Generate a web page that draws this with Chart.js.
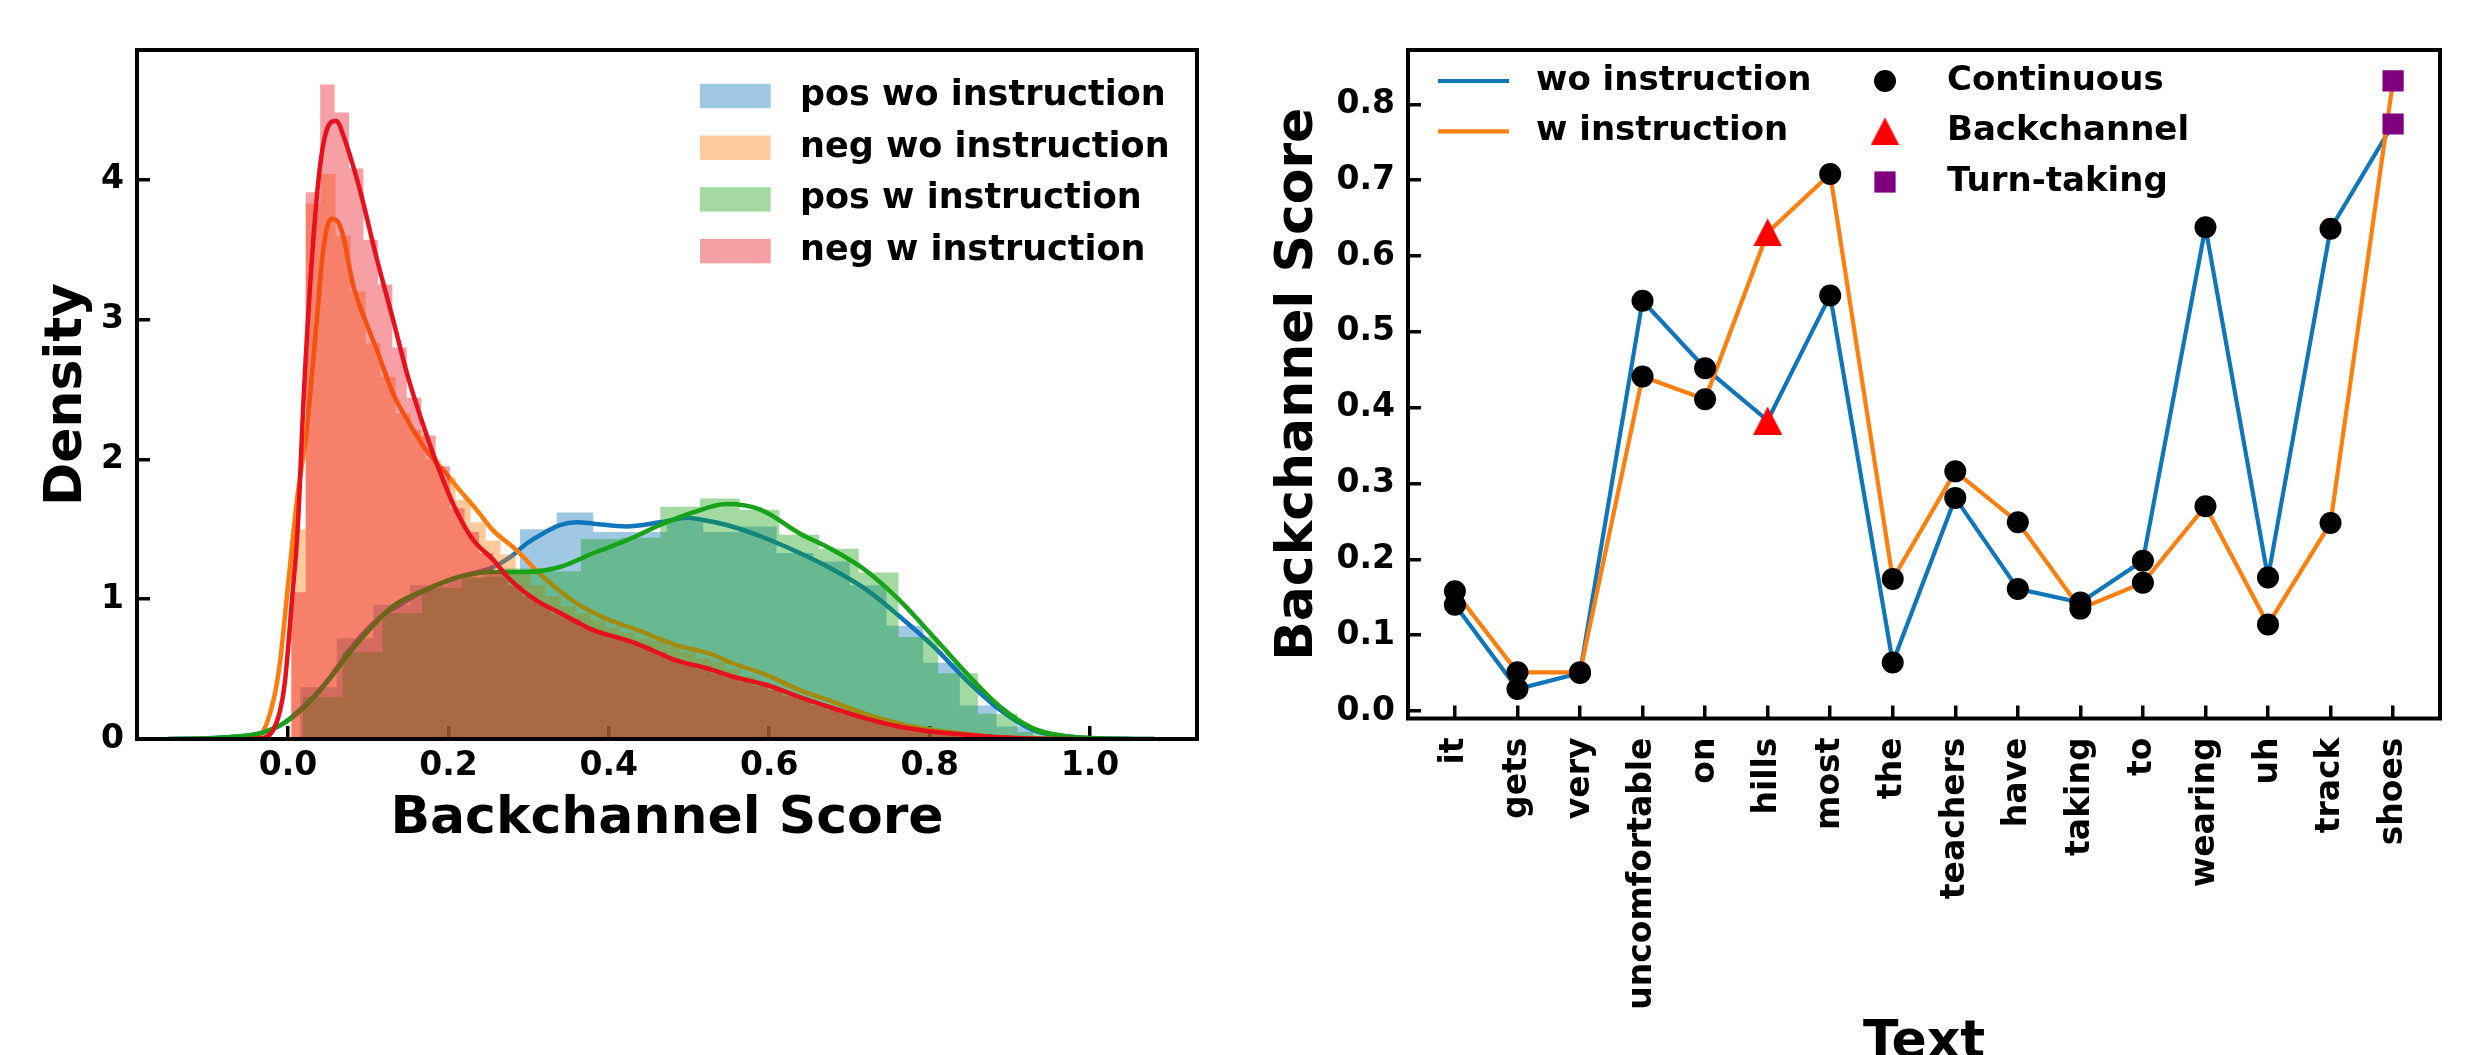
<!DOCTYPE html>
<html>
<head>
<meta charset="utf-8">
<style>
html, body { margin: 0; padding: 0; background: #fff; }
#wrap { position: relative; width: 2489px; height: 1055px; overflow: hidden; background: #fff; }
#leftBox { position: absolute; left: 0; top: 0; width: 1250px; height: 1055px; }
#rightBox { position: absolute; left: 1250px; top: 0; width: 1239px; height: 1055px; }
</style>
</head>
<body>
<div id="wrap">
<div id="leftBox"><canvas id="densityChart" width="1250" height="1055"></canvas></div>
<div id="rightBox"><canvas id="scoreChart" width="1239" height="1055"></canvas></div>
</div>

<script src="https://cdn.jsdelivr.net/npm/chart.js"></script>
<script>
// ---- left panel: histograms (bin start, bin width, heights) ----
var histNames = ['pos wo instruction', 'neg wo instruction', 'pos w instruction', 'neg w instruction'];

var posWoBinStart = 0.0151, posWoBinWidth = 0.0457;
var posWoHist = [0.37, 0.72, 0.96, 1.10, 1.15, 1.20, 1.50, 1.62, 1.48, 1.48, 1.56, 1.48, 1.52, 1.33, 1.27, 1.10, 0.81, 0.545, 0.24, 0.09, 0.02];

var negWoBinStart = 0.0033, negWoBinWidth = 0.0187;
var negWoHist = [1.5, 3.83, 4.04, 3.6, 3.2, 2.83, 2.59, 2.33, 2.21, 2.0, 1.87, 1.71, 1.55, 1.42, 1.32, 1.18,
                 1.10, 1.02, 0.95, 0.90, 0.85, 0.80, 0.76, 0.72, 0.70, 0.66, 0.62, 0.58, 0.55, 0.50, 0.45, 0.41,
                 0.37, 0.32, 0.28, 0.25, 0.21, 0.18, 0.14, 0.12, 0.09, 0.07, 0.05, 0.04, 0.03, 0.02, 0.01, 0.005];

var posWBinStart = 0.0187, posWBinWidth = 0.0495;
var posWHist = [0.30, 0.62, 0.90, 1.08, 1.16, 1.22, 1.20, 1.43, 1.44, 1.66, 1.72, 1.64, 1.46, 1.36, 1.19, 0.73, 0.47, 0.18, 0.05];

var negWBinStart = 0.0041, negWBinWidth = 0.018;
var negWHist = [1.05, 3.91, 4.68, 4.48, 4.08, 3.57, 3.25, 2.80, 2.44, 2.17, 1.95, 1.65, 1.48, 1.33, 1.20, 1.10,
                1.02, 0.96, 0.90, 0.86, 0.80, 0.76, 0.72, 0.70, 0.66, 0.62, 0.57, 0.53, 0.50, 0.47, 0.44, 0.41,
                0.38, 0.35, 0.31, 0.28, 0.24, 0.21, 0.18, 0.15, 0.12, 0.10, 0.08, 0.06, 0.05, 0.04, 0.03, 0.02, 0.01];

// ---- left panel: kde curves ----
var posWoKdeX = [-0.15, -0.10, -0.068, -0.035, -0.006, 0.015, 0.036, 0.056, 0.077, 0.098, 0.119, 0.14, 0.16, 0.18,
                 0.214, 0.256, 0.277, 0.298, 0.318, 0.339, 0.36, 0.381, 0.422, 0.464, 0.497, 0.514, 0.547, 0.589,
                 0.638, 0.68, 0.722, 0.763, 0.805, 0.846, 0.888, 0.929, 0.97, 1.01, 1.08];
var posWoKdeY = [0, 0.005, 0.016, 0.04, 0.11, 0.21, 0.33, 0.47, 0.64, 0.78, 0.89, 0.96, 1.03, 1.09,
                 1.16, 1.23, 1.30, 1.40, 1.47, 1.53, 1.55, 1.54, 1.52, 1.55, 1.58, 1.57, 1.53, 1.45,
                 1.33, 1.21, 1.064, 0.874, 0.66, 0.42, 0.207, 0.064, 0.02, 0.005, 0];

var negWoKdeX = [-0.06, -0.035, -0.018, -0.01, 0.0, 0.011, 0.023, 0.036, 0.044, 0.054, 0.062, 0.069, 0.081, 0.098,
                 0.111, 0.131, 0.152, 0.173, 0.194, 0.214, 0.235, 0.256, 0.283, 0.318, 0.36, 0.401, 0.435, 0.485,
                 0.526, 0.555, 0.597, 0.638, 0.68, 0.72, 0.763, 0.805, 0.846, 0.888, 0.95];
var negWoKdeY = [0, 0.03, 0.28, 0.55, 1.1, 1.7, 2.2, 3.0, 3.5, 3.72, 3.7, 3.59, 3.25, 2.97,
                 2.78, 2.47, 2.25, 2.06, 1.92, 1.78, 1.64, 1.49, 1.36, 1.16, 0.97, 0.85, 0.78, 0.67,
                 0.61, 0.54, 0.457, 0.35, 0.266, 0.18, 0.11, 0.064, 0.036, 0.012, 0];

var posWKdeX = [-0.15, -0.10, -0.068, -0.035, -0.006, 0.015, 0.036, 0.056, 0.077, 0.098, 0.131, 0.173, 0.214,
                0.256, 0.298, 0.339, 0.381, 0.422, 0.464, 0.505, 0.547, 0.589, 0.638, 0.68, 0.72, 0.763,
                0.805, 0.846, 0.888, 0.929, 0.97, 1.01, 1.08];
var posWKdeY = [0, 0.005, 0.016, 0.04, 0.11, 0.2, 0.32, 0.46, 0.62, 0.76, 0.95, 1.07, 1.16,
                1.195, 1.195, 1.23, 1.33, 1.42, 1.53, 1.62, 1.68, 1.64, 1.47, 1.35, 1.207, 0.99,
                0.73, 0.47, 0.23, 0.076, 0.02, 0.005, 0];

var negWKdeX = [-0.05, -0.03, -0.02, -0.01, -0.004, 0.005, 0.012, 0.02, 0.03, 0.04, 0.05, 0.06, 0.07, 0.08, 0.09,
                0.11, 0.13, 0.15, 0.17, 0.19, 0.21, 0.23, 0.256, 0.277, 0.31, 0.34, 0.38, 0.42, 0.44, 0.485,
                0.526, 0.555, 0.597, 0.638, 0.68, 0.72, 0.763, 0.804, 0.846, 0.888, 0.93, 0.98];
var negWKdeY = [0, 0.01, 0.05, 0.2, 0.4, 1.0, 1.5, 2.5, 3.45, 4.1, 4.38, 4.42, 4.3, 4.12, 3.92,
                3.45, 3.02, 2.58, 2.22, 1.9, 1.63, 1.43, 1.28, 1.14, 0.99, 0.9, 0.78, 0.71, 0.67, 0.56,
                0.5, 0.445, 0.386, 0.30, 0.22, 0.148, 0.088, 0.052, 0.03, 0.012, 0.003, 0];

var densityTicksX = [0.0, 0.2, 0.4, 0.6, 0.8, 1.0];
var densityTicksY = [0, 1, 2, 3, 4];

// ---- right panel ----
var words = ['it', 'gets', 'very', 'uncomfortable', 'on', 'hills', 'most', 'the', 'teachers', 'have',
             'taking', 'to', 'wearing', 'uh', 'track', 'shoes'];
var woInstruction = [0.140, 0.029, 0.050, 0.541, 0.452, 0.383, 0.548, 0.064, 0.281, 0.161, 0.143, 0.198, 0.638, 0.176, 0.636, 0.774];
var wInstruction = [0.158, 0.051, 0.051, 0.441, 0.411, 0.631, 0.708, 0.174, 0.316, 0.249, 0.135, 0.169, 0.270, 0.114, 0.248, 0.831];
var wordTypes = ['Continuous', 'Continuous', 'Continuous', 'Continuous', 'Continuous', 'Backchannel', 'Continuous', 'Continuous',
                 'Continuous', 'Continuous', 'Continuous', 'Continuous', 'Continuous', 'Continuous', 'Continuous', 'Turn-taking'];
var markerTypes = ['Continuous', 'Backchannel', 'Turn-taking'];
var scoreTicksY = [0.0, 0.1, 0.2, 0.3, 0.4, 0.5, 0.6, 0.7, 0.8];
</script>

<script>
Chart.defaults.font.family = '"DejaVu Sans", sans-serif';
Chart.defaults.font.weight = 'bold';
Chart.defaults.font.size = 33;
Chart.defaults.color = '#000';

var lineColors = ['#0f76bc', '#ff7c0a', '#17a317', '#e8101c'];
var histColors = ['rgba(15,118,188,0.4)', 'rgba(255,124,10,0.4)', 'rgba(23,163,23,0.4)', 'rgba(232,16,28,0.4)'];

function histPoints(start, width, heights) {
	var pts = heights.map(function (h, i) { return {x: start + i * width, y: h}; });
	pts.push({x: start + heights.length * width, y: 0});
	return pts;
}
function kdePoints(xs, ys) {
	return xs.map(function (x, i) { return {x: x, y: ys[i]}; });
}
function histDataset(label, pts, idx, order) {
	return {label: label, data: pts, stepped: true, fill: 'origin', backgroundColor: histColors[idx],
		borderColor: 'rgba(0,0,0,0)', borderWidth: 0, pointRadius: 0, order: order};
}
function kdeDataset(label, pts, idx, order) {
	return {label: label, data: pts, fill: false, borderColor: lineColors[idx], borderWidth: 4.5,
		cubicInterpolationMode: 'monotone', pointRadius: 0, order: order};
}
function axisGrid() {
	return {display: true, drawOnChartArea: false, drawTicks: true, tickLength: -13,
		tickWidth: 3.5, tickColor: '#000', lineWidth: 3.5, color: '#000'};
}
var titleFont = {size: 52, weight: 'bold', lineHeight: 1};

var framePlugin = {
	id: 'frame',
	afterDatasetsDraw: function (chart) {
		var a = chart.chartArea, ctx = chart.ctx;
		ctx.save();
		ctx.strokeStyle = '#000';
		ctx.lineWidth = 4;
		ctx.strokeRect(a.left, a.top, a.right - a.left, a.bottom - a.top);
		ctx.restore();
	}
};

var histLegend = {
	id: 'histLegend',
	afterDraw: function (chart) {
		var ctx = chart.ctx;
		ctx.save();
		ctx.font = 'bold 35px "DejaVu Sans"';
		ctx.textBaseline = 'middle';
		ctx.textAlign = 'left';
		histNames.forEach(function (name, i) {
			var y = 96 + i * 51.7;
			ctx.fillStyle = histColors[i];
			ctx.fillRect(700, y - 12.2, 70.7, 24.4);
			ctx.fillStyle = '#000';
			ctx.fillText(name, 800, y);
		});
		ctx.restore();
	}
};

// left chart: blue hist+kde at the bottom, red on top
new Chart(document.getElementById('densityChart'), {
	type: 'line',
	data: {
		datasets: [
			kdeDataset('neg w instruction', kdePoints(negWKdeX, negWKdeY), 3, 1),
			histDataset('neg w instruction', histPoints(negWBinStart, negWBinWidth, negWHist), 3, 2),
			kdeDataset('pos w instruction', kdePoints(posWKdeX, posWKdeY), 2, 3),
			histDataset('pos w instruction', histPoints(posWBinStart, posWBinWidth, posWHist), 2, 4),
			kdeDataset('neg wo instruction', kdePoints(negWoKdeX, negWoKdeY), 1, 5),
			histDataset('neg wo instruction', histPoints(negWoBinStart, negWoBinWidth, negWoHist), 1, 6),
			kdeDataset('pos wo instruction', kdePoints(posWoKdeX, posWoKdeY), 0, 7),
			histDataset('pos wo instruction', histPoints(posWoBinStart, posWoBinWidth, posWoHist), 0, 8)
		]
	},
	options: {
		responsive: false,
		animation: false,
		events: [],
		layout: {padding: {top: 50, right: 53, bottom: 0, left: 0}},
		plugins: {legend: {display: false}, tooltip: {enabled: false}},
		scales: {
			x: {
				type: 'linear', min: -0.1883, max: 1.1334, z: 1,
				afterBuildTicks: function (s) { s.ticks = densityTicksX.map(function (v) { return {value: v}; }); },
				afterFit: function (s) { s.height = 316; },
				grid: axisGrid(), border: {display: false},
				ticks: {padding: 24, autoSkip: false, maxRotation: 0, minRotation: 0,
					font: {size: 33, lineHeight: 1}, callback: function (v) { return v.toFixed(1); }},
				title: {display: true, text: 'Backchannel Score', font: titleFont, padding: {top: 0, bottom: 210}}
			},
			y: {
				type: 'linear', min: 0, max: 4.927, z: 1,
				afterBuildTicks: function (s) { s.ticks = densityTicksY.map(function (v) { return {value: v}; }); },
				afterFit: function (s) { s.width = 137; },
				grid: axisGrid(), border: {display: false},
				ticks: {padding: 26, font: {size: 33, lineHeight: 1}, callback: function (v) { return String(v); }},
				title: {display: true, text: 'Density', font: titleFont, padding: {top: 41, bottom: 0}}
			}
		}
	},
	plugins: [framePlugin, histLegend]
});

// right chart
var seriesColors = ['#0f76bc', '#ff7f0e'];
var seriesNames = ['wo instruction', 'w instruction'];

var triangleImg = document.createElement('canvas');
triangleImg.width = 29; triangleImg.height = 28;
(function () {
	var c = triangleImg.getContext('2d');
	c.fillStyle = '#ff0000';
	c.beginPath();
	c.moveTo(14.5, 0); c.lineTo(29, 28); c.lineTo(0, 28);
	c.closePath();
	c.fill();
})();

var markerStyles = {
	'Continuous': {style: 'circle', radius: 11, color: '#000000'},
	'Backchannel': {style: triangleImg, radius: 14, color: '#ff0000'},
	'Turn-taking': {style: 'rect', radius: 15, color: '#800080'}
};

function seriesPoints(values) {
	return values.map(function (v, i) { return {x: i, y: v}; });
}
function markerPoints(type) {
	var pts = [];
	words.forEach(function (w, i) {
		if (wordTypes[i] === type) {
			pts.push({x: i, y: woInstruction[i]});
			pts.push({x: i, y: wInstruction[i]});
		}
	});
	return pts;
}

var scoreDatasets = [];
markerTypes.forEach(function (t) {
	var m = markerStyles[t];
	scoreDatasets.push({label: t, data: markerPoints(t), showLine: false, pointStyle: m.style,
		pointRadius: m.radius, pointBackgroundColor: m.color, pointBorderColor: m.color, pointBorderWidth: 0, order: 1});
});
scoreDatasets.push({label: seriesNames[1], data: seriesPoints(wInstruction), borderColor: seriesColors[1],
	borderWidth: 4.2, pointRadius: 0, fill: false, tension: 0, order: 2});
scoreDatasets.push({label: seriesNames[0], data: seriesPoints(woInstruction), borderColor: seriesColors[0],
	borderWidth: 4.2, pointRadius: 0, fill: false, tension: 0, order: 3});

var scoreLegend = {
	id: 'scoreLegend',
	afterDraw: function (chart) {
		var ctx = chart.ctx;
		var rows = [81, 131.4, 182];
		ctx.save();
		ctx.font = 'bold 34px "DejaVu Sans"';
		ctx.textBaseline = 'middle';
		ctx.textAlign = 'left';
		seriesNames.forEach(function (name, i) {
			ctx.strokeStyle = seriesColors[i];
			ctx.lineWidth = 4.2;
			ctx.beginPath();
			ctx.moveTo(188, rows[i]); ctx.lineTo(259, rows[i]);
			ctx.stroke();
			ctx.fillStyle = '#000';
			ctx.fillText(name, 286, rows[i]);
		});
		markerTypes.forEach(function (t, i) {
			var m = markerStyles[t], cx = 635, cy = rows[i];
			ctx.fillStyle = m.color;
			if (m.style === 'circle') {
				ctx.beginPath(); ctx.arc(cx, cy, m.radius, 0, Math.PI * 2); ctx.fill();
			} else if (m.style === 'rect') {
				var h = m.radius * Math.SQRT1_2;
				ctx.fillRect(cx - h, cy - h, 2 * h, 2 * h);
			} else {
				ctx.drawImage(m.style, cx - m.style.width / 2, cy - m.style.height / 2);
			}
			ctx.fillStyle = '#000';
			ctx.fillText(t, 697, cy);
		});
		ctx.restore();
	}
};

new Chart(document.getElementById('scoreChart'), {
	type: 'line',
	data: {datasets: scoreDatasets},
	options: {
		responsive: false,
		animation: false,
		events: [],
		layout: {padding: {top: 50, right: 49, bottom: 0, left: 0}},
		plugins: {legend: {display: false}, tooltip: {enabled: false}},
		scales: {
			x: {
				type: 'linear', min: -0.75, max: 15.75, z: 1,
				afterBuildTicks: function (s) { s.ticks = words.map(function (w, i) { return {value: i}; }); },
				afterFit: function (s) { s.height = 336.5; },
				grid: axisGrid(), border: {display: false},
				ticks: {padding: 32, autoSkip: false, maxRotation: 90, minRotation: 90,
					font: {size: 33, lineHeight: 1.1}, callback: function (v) { return words[Math.round(v)]; }},
				title: {display: true, text: 'Text', font: titleFont, padding: {top: 0, bottom: -14}}
			},
			y: {
				type: 'linear', min: -0.0099, max: 0.8716, z: 1,
				afterBuildTicks: function (s) { s.ticks = scoreTicksY.map(function (v) { return {value: v}; }); },
				afterFit: function (s) { s.width = 158; },
				grid: axisGrid(), border: {display: false},
				ticks: {padding: 26, font: {size: 33, lineHeight: 1}, callback: function (v) { return v.toFixed(1); }},
				title: {display: true, text: 'Backchannel Score', font: titleFont, padding: {top: 22.5, bottom: 0}}
			}
		}
	},
	plugins: [framePlugin, scoreLegend]
});
</script>
</body>
</html>
